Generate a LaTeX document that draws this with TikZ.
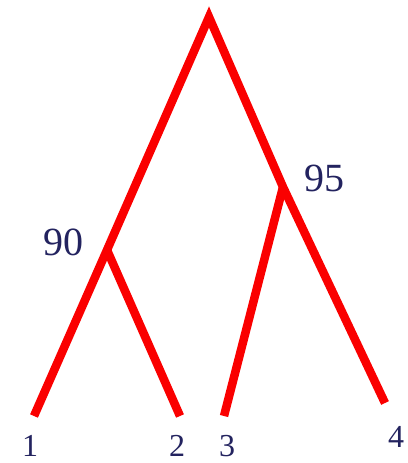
\documentclass[tikz,border=0pt]{standalone}
\usepackage{fontspec}
\setmainfont{Liberation Serif}
\usetikzlibrary{positioning}
\definecolor{branchred}{RGB}{250,0,0}
\definecolor{labelnavy}{RGB}{35,35,95}

\begin{document}
\begin{tikzpicture}[
  x=1pt, y=-1pt,
  branch/.style={draw=branchred, line width=8.5pt},
  weight/.style={text=labelnavy, inner sep=0pt, font=\fontsize{40}{40}\selectfont},
  leaf/.style={text=labelnavy, inner sep=0pt, font=\fontsize{32}{32}\selectfont}
]
  \useasboundingbox (0,0) rectangle (407,463);

  % tree points
  \coordinate (root) at (209,17);
  \coordinate (j90) at (107,250);
  \coordinate (j95) at (283,187);
  \coordinate (e1) at (34,416);
  \coordinate (e2) at (180,416);
  \coordinate (e3) at (224,416);
  \coordinate (e4) at (385,403);

  % branches
  \draw[branch] (e1) -- (j90) -- (root) -- (j95) -- (e4);
  \draw[branch] (j90) -- (e2);
  \draw[branch] (j95) -- (e3);

  % labels
  \node[weight] (w90) at (63,242) {90};
  \node[weight] (w95) at (324,178) {95};
  \node[leaf] (t1) at (30,446) {1};
  \node[leaf] (t2) at (177,446) {2};
  \node[leaf] (t3) at (227,446) {3};
  \node[leaf] (t4) at (396,437) {4};
\end{tikzpicture}
\end{document}
